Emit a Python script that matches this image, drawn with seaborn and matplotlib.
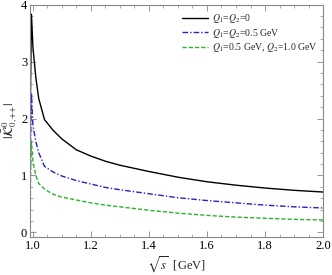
import numpy as np
import pandas as pd
import matplotlib
matplotlib.use("Agg")
import matplotlib.pyplot as plt
import seaborn as sns
from matplotlib.ticker import MultipleLocator

# ============================
# Data
# ============================

sqrt_s = [0.990, 0.992, 0.995, 1.000, 1.010, 1.020, 1.040, 1.070, 1.100, 1.150,
          1.200, 1.250, 1.300, 1.400, 1.500, 1.600, 1.700, 1.800, 1.900, 2.000]

k_q0 = [0.00, 2.60, 3.83, 3.25, 2.72, 2.35, 1.98, 1.79, 1.64, 1.45,
        1.34, 1.25, 1.18, 1.07, 0.97, 0.89, 0.83, 0.78, 0.74, 0.71]

k_q05 = [0.00, 1.70, 2.45, 1.88, 1.60, 1.40, 1.16, 1.06, 0.99, 0.91,
         0.85, 0.79, 0.75, 0.68, 0.61, 0.56, 0.52, 0.48, 0.45, 0.43]

k_q05_10 = [0.00, 1.10, 1.59, 1.25, 1.00, 0.86, 0.76, 0.67, 0.62, 0.57,
            0.52, 0.48, 0.45, 0.39, 0.34, 0.30, 0.27, 0.25, 0.23, 0.22]

labels = [r"$Q_1$=$Q_2$=0",
          r"$Q_1$=$Q_2$=0.5 GeV",
          r"$Q_1$=0.5 GeV, $Q_2$=1.0 GeV"]

df = pd.concat([
    pd.DataFrame({"x": sqrt_s, "y": k_q0, "case": labels[0]}),
    pd.DataFrame({"x": sqrt_s, "y": k_q05, "case": labels[1]}),
    pd.DataFrame({"x": sqrt_s, "y": k_q05_10, "case": labels[2]}),
])

# ============================
# Style
# ============================

sns.set_style("ticks")
plt.rcParams["font.family"] = ["Liberation Serif", "DejaVu Serif"]
plt.rcParams["mathtext.fontset"] = "stix"

fig = plt.figure(figsize=(3.32, 2.75), dpi=100)
ax = fig.add_axes([0.0904, 0.138, 0.8826, 0.8456])

palette = {labels[0]: "black", labels[1]: "#2323c8", labels[2]: "#28b428"}
sns.lineplot(data=df, x="x", y="y", hue="case", palette=palette,
             linewidth=1.0, ax=ax, legend=False)

lines = ax.get_lines()
lines[1].set_dashes([4, 1.5, 1, 1.5])
lines[2].set_dashes([3, 1.5])

ax.set_xlim(0.99, 2.0)
ax.set_ylim(-0.08, 4.0)

ax.xaxis.set_major_locator(MultipleLocator(0.2))
ax.xaxis.set_minor_locator(MultipleLocator(0.05))
ax.yaxis.set_major_locator(MultipleLocator(1))
ax.yaxis.set_minor_locator(MultipleLocator(0.2))
ax.xaxis.set_major_formatter(matplotlib.ticker.FormatStrFormatter("%.1f"))

ax.tick_params(which="both", direction="in", top=True, right=True,
               colors="#888888", labelcolor="black", labelsize=9, pad=2)
ax.tick_params(which="major", length=4, width=0.6)
ax.tick_params(which="minor", length=2, width=0.5)
for sp in ax.spines.values():
    sp.set_color("#888888")
    sp.set_linewidth(0.8)

ax.set_xlabel(r"$\sqrt{s}$  [GeV]", fontsize=9, labelpad=2)
ax.set_ylabel(r"$|\bar{\mathcal{K}}^{0}_{0,{+}{+}}|$", fontsize=9, labelpad=1)

ax.legend(lines, labels, loc="upper right", bbox_to_anchor=(1.01, 1.0),
          frameon=False, fontsize=7, handlelength=2.6, handletextpad=0.5,
          labelspacing=0.15, borderaxespad=0.4)

plt.savefig("out.png", dpi=100)
